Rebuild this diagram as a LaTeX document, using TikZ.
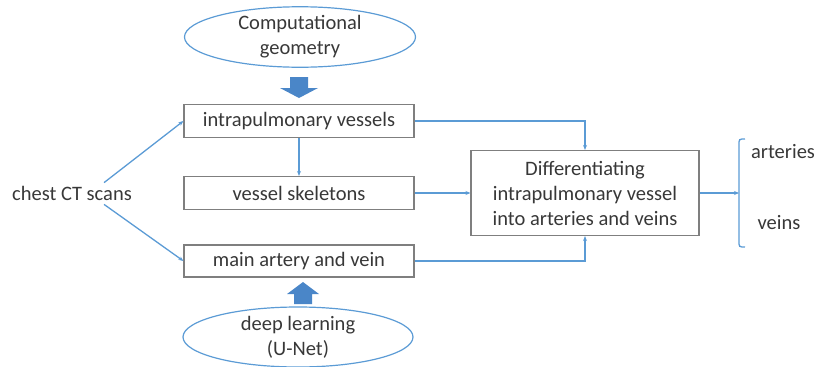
\documentclass[tikz,border=0pt]{standalone}
\usepackage{fontspec}
\setmainfont{Carlito}
\usetikzlibrary{arrows.meta, shapes.geometric}
\definecolor{lineblue}{RGB}{91,155,213}
\definecolor{fillblue}{RGB}{74,134,200}
\definecolor{boxgray}{RGB}{127,127,127}
\definecolor{textgray}{RGB}{56,56,56}
\tikzset{
  box/.style={draw=boxgray, line width=1.1pt, fill=white, minimum width=230pt, minimum height=33pt, inner sep=0pt, text=textgray},
  oval/.style={ellipse, draw=lineblue, line width=1.2pt, minimum width=231pt, minimum height=60pt, inner sep=0pt, align=center, text=textgray},
  flow/.style={draw=lineblue, line width=1.3pt, -{Stealth[length=5pt, width=4pt]}},
  label/.style={text=textgray, inner sep=0pt}
}
\begin{document}
\begin{tikzpicture}[x=1pt, y=-1pt, font=\fontsize{20.5}{25}\selectfont]
                \useasboundingbox (0,0) rectangle (815,367);
                \node[oval] (geom) at (300,37) {Computational\\geometry};
                \node[box] (iv) at (299,121) {intrapulmonary vessels};
                \node[box] (vs) at (299,193) {vessel skeletons};
                \node[box, minimum height=32pt] (ma) at (299,261) {main artery and vein};
                \node[oval, minimum width=230pt] (dl) at (298,337) {deep learning\\(U-Net)};
                \node[box, minimum width=228pt, minimum height=85pt, align=center] (diff) at (585,193) {Differentiating\\intrapulmonary vessel\\into arteries and veins};
                \node[label] (ct) at (72,193) {chest CT scans};
                \node[label] (art) at (783,152) {arteries};
                \node[label] (vein) at (779,223) {veins};
                \coordinate (fork) at (739,193);
                \fill[fillblue] (290,77) -- (308,77) -- (308,88) -- (318,88) -- (299,98) -- (280,88) -- (290,88) -- cycle;
                \fill[fillblue] (294,304) -- (312,304) -- (312,294) -- (319,294) -- (303,282) -- (287,294) -- (294,294) -- cycle;
                \draw[flow] ([xshift=-28pt, yshift=3pt]ct.north east) -- (iv.west);
                \draw[flow] ([xshift=-28pt, yshift=-4pt]ct.south east) -- (ma.west);
                \draw[flow] (iv.south) -- (vs.north);
                \draw[flow] (iv.east) -| (diff.north);
                \draw[flow] (vs.east) -- (diff.west);
                \draw[flow] (ma.east) -| (diff.south);
                \draw[flow] (diff.east) -- (fork);
                \draw[lineblue, line width=1.3pt] (745,139) .. controls (739,139) .. (739,145) -- (739,241) .. controls (739,247) .. (745,247);
            \end{tikzpicture}
\end{document}
